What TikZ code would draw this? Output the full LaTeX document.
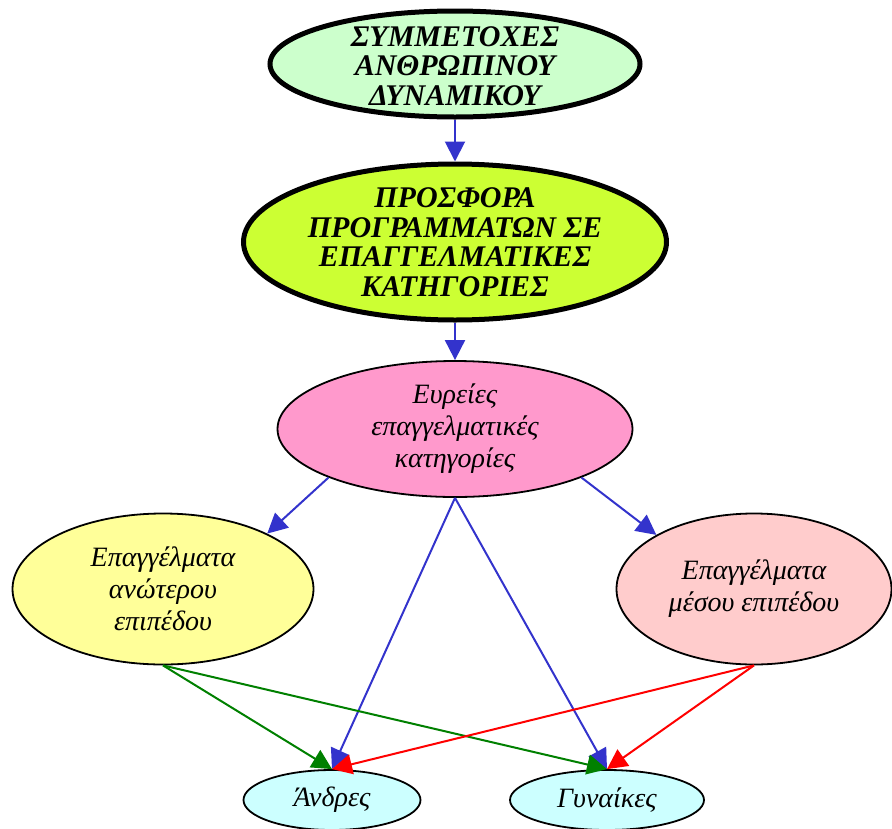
\documentclass[tikz,border=0pt]{standalone}
\usepackage{fontspec}
\setmainfont{Liberation Serif}
\usetikzlibrary{arrows.meta, shapes.geometric}
\definecolor{mintgreen}{HTML}{CCFFCC}
\definecolor{limegreen}{HTML}{CCFF33}
\definecolor{candypink}{HTML}{FF99CC}
\definecolor{paleyellow}{HTML}{FFFF99}
\definecolor{palerose}{HTML}{FFCCCC}
\definecolor{palecyan}{HTML}{CCFFFF}
\definecolor{edgeblue}{HTML}{3333CC}
\definecolor{edgegreen}{HTML}{008000}
\definecolor{edgered}{HTML}{FF0000}

\begin{document}
\begin{tikzpicture}[x=1pt, y=-1pt,
    heavyoval/.style={ellipse, draw=black, line width=5pt, inner sep=0pt},
    lightoval/.style={ellipse, draw=black, line width=1.8pt, inner sep=0pt},
    headtext/.style={font=\bfseries\itshape\fontsize{30}{29.5}\selectfont, align=center},
    bodytext/.style={font=\itshape\fontsize{28}{32}\selectfont, align=center},
    arrow/.style={-{Triangle[length=20pt, width=20pt]}, line width=2pt},
    bluearrow/.style={arrow, draw=edgeblue, fill=edgeblue},
    greenarrow/.style={arrow, draw=edgegreen, fill=edgegreen},
    redarrow/.style={arrow, draw=edgered, fill=edgered}
]
\useasboundingbox (0,0) rectangle (892,828);
\node[heavyoval, fill=mintgreen, minimum width=370pt, minimum height=106pt,
    label={[headtext, yshift=-2pt]center:{ΣΥΜΜΕΤΟΧΕΣ\\ΑΝΘΡΩΠΙΝΟΥ\\ΔΥΝΑΜΙΚΟΥ}}] (symmetoxes) at (455,64) {};
\node[heavyoval, fill=limegreen, minimum width=423pt, minimum height=156pt,
    label={[headtext]center:{ΠΡΟΣΦΟΡΑ\\ΠΡΟΓΡΑΜΜΑΤΩΝ ΣΕ\\ΕΠΑΓΓΕΛΜΑΤΙΚΕΣ\\ΚΑΤΗΓΟΡΙΕΣ}}] (prosfora) at (455,242) {};
\node[lightoval, fill=candypink, minimum width=355pt, minimum height=136pt,
    label={[bodytext]center:{Ευρείες\\επαγγελματικές\\κατηγορίες}}] (kathgories) at (455,429) {};
\node[lightoval, fill=paleyellow, minimum width=301pt, minimum height=151pt,
    label={[bodytext]center:{Επαγγέλματα\\ανώτερου\\επιπέδου}}] (anotero) at (163,589) {};
\node[lightoval, fill=palerose, minimum width=275pt, minimum height=151pt,
    label={[bodytext]center:{Επαγγέλματα\\μέσου επιπέδου}}] (meso) at (754,589) {};
\node[lightoval, fill=palecyan, minimum width=177pt, minimum height=60pt,
    label={[bodytext]center:{Άνδρες}}] (andres) at (332,800) {};
\node[lightoval, fill=palecyan, minimum width=194pt, minimum height=60pt,
    label={[bodytext]center:{Γυναίκες}}] (gynaikes) at (607,800) {};
% blue edges
\draw[bluearrow] (symmetoxes) -- (prosfora);
\draw[bluearrow] (prosfora) -- (kathgories);
\draw[bluearrow] (kathgories.201) -- (anotero.28);
\draw[bluearrow] (kathgories.339) -- (meso.151);
\draw[bluearrow] (kathgories.south) -- (andres.north);
\draw[bluearrow] (kathgories.south) -- (gynaikes.north);
% green edges
\draw[greenarrow] (anotero.south) -- (andres.north);
\draw[greenarrow] (anotero.south) -- (gynaikes.north);
% red edges
\draw[redarrow] (meso.south) -- (andres.north);
\draw[redarrow] (meso.south) -- (gynaikes.north);
\end{tikzpicture}
\end{document}
